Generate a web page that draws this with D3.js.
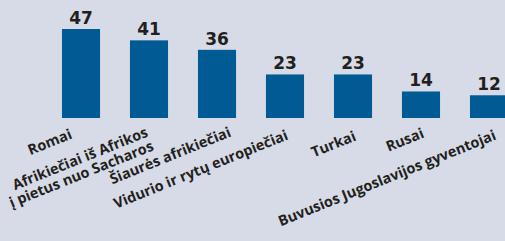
<!DOCTYPE html>
<html>
<head>
<meta charset="utf-8">
<script src="https://cdn.jsdelivr.net/npm/d3@7"></script>
<style>
	body { margin: 0; background: #d7dbe7; }
	svg { display: block; }
</style>
</head>
<body>
<svg id="chart"></svg>
<script>
const categories = [
	['Romai'],
	['Afrikiečiai iš Afrikos', 'į pietus nuo Sacharos'],
	['Šiaurės afrikiečiai'],
	['Vidurio ir rytų europiečiai'],
	['Turkai'],
	['Rusai'],
	['Buvusios Jugoslavijos gyventojai'],
];
const values = [47, 41, 36, 23, 23, 14, 12];

// hand nudges for the slanted labels (end of text relative to bar centre / baseline)
const labelNudge = [
	[-8, 20], [0, 18], [15, 18], [4, 21], [4, 22], [4, 19], [8, 21],
];

const W = 505, H = 241;
const colors = { bg: '#d7dbe7', bar: '#005a94', text: '#231f20' };

const svg = d3.select('#chart')
	.attr('width', W)
	.attr('height', H);

svg.append('rect')
	.attr('width', W)
	.attr('height', H)
	.attr('fill', colors.bg);

const x = d3.scaleBand()
	.domain(d3.range(values.length))
	.range([47, 47 + 68 * values.length])
	.paddingInner(0.44)
	.paddingOuter(0.22);

const y = d3.scaleLinear()
	.domain([0, 47])
	.range([118, 29]);

svg.selectAll('rect.bar')
	.data(values)
	.join('rect')
	.attr('class', 'bar')
	.attr('x', (d, i) => x(i))
	.attr('y', d => y(d))
	.attr('width', x.bandwidth())
	.attr('height', d => y(0) - y(d))
	.attr('fill', colors.bar);

svg.selectAll('text.val')
	.data(values)
	.join('text')
	.attr('class', 'val')
	.attr('x', (d, i) => x(i) + x.bandwidth() / 2)
	.attr('y', d => y(d) - 5)
	.attr('text-anchor', 'middle')
	.attr('font-family', 'DejaVu Sans')
	.attr('font-weight', 'bold')
	.attr('font-size', 17)
	.attr('fill', colors.text)
	.text(d => d);

const labels = svg.selectAll('g.lab')
	.data(categories)
	.join('g')
	.attr('class', 'lab')
	.attr('transform', (d, i) => {
		let cx = x(i) + x.bandwidth() / 2 + labelNudge[i][0];
		let cy = y(0) + labelNudge[i][1];
		return `translate(${cx},${cy}) rotate(-22)`;
	});

labels.append('text')
	.attr('text-anchor', 'end')
	.attr('font-family', 'Open Sans')
	.attr('font-weight', 'bold')
	.attr('font-size', 14.5)
	.attr('fill', colors.text)
	.selectAll('tspan')
	.data(d => d)
	.join('tspan')
	.attr('x', 0)
	.attr('y', (d, j) => j * 15)
	.text(d => d);
</script>
</body>
</html>
